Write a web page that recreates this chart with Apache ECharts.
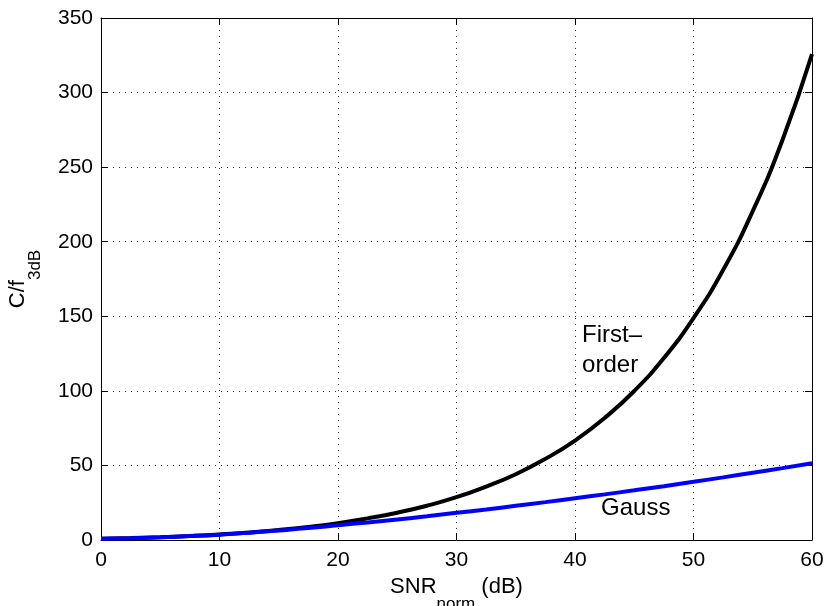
<!DOCTYPE html>
<html>
<head>
<meta charset="utf-8">
<script src="https://cdn.jsdelivr.net/npm/echarts@6/dist/echarts.min.js"></script>
<style>
html,body{margin:0;padding:0;background:#fff;overflow:hidden;}
#chart{width:827px;height:606px;}
</style>
</head>
<body>
<div id="chart"></div>
<script>
// SNR_norm (dB) sample points
var snrDb = [0, 2.5, 5, 7.5, 10, 12.5, 15, 17.5, 20, 22.5, 25, 27.5, 30, 32.5, 35, 37.5, 40, 42.5, 45, 47.5, 50, 52.5, 55, 57.5, 60];
// C/f3dB, first-order channel (black)
var firstOrder = [0.84, 1.27, 1.86, 2.66, 3.69, 5.02, 6.69, 8.77, 11.3, 14.5, 18.3, 23.0, 28.7, 35.8, 44.1, 54.4, 66.7, 81.8, 99.9, 122, 148.8, 181, 220.5, 268, 325.8];
// C/f3dB, Gaussian channel (blue)
var gauss = [0.8, 1.2, 1.8, 2.6, 3.6, 4.9, 6.4, 8.0, 9.9, 11.8, 13.8, 15.9, 18.2, 20.5, 22.9, 25.4, 28.0, 30.6, 33.3, 36.1, 39.0, 42.0, 45.1, 48.2, 51.4];
// axis ticks
var xTicks = {min: 0, max: 60, step: 10};
var yTicks = {min: 0, max: 350, step: 50};
// in-plot annotations (data coordinates)
var noteTexts = ['First\u2013', 'order', 'Gauss'];
var noteX = [40.6, 40.6, 42.2];
var noteY = [137.5, 117.4, 21];

var FONT = '"Liberation Sans", Arial, Helvetica, sans-serif';
var chart = echarts.init(document.getElementById('chart'), null, {renderer: 'canvas'});

function pairs(xs, ys) { return xs.map(function (x, i) { return [x, ys[i]]; }); }

var gridLine = {show: true, lineStyle: {color: '#333', width: 1, type: [1, 5]}};
var axLine = {show: true, onZero: false, lineStyle: {color: '#000', width: 1}};
var tick = {show: true, inside: true, length: 7, lineStyle: {color: '#000', width: 1}};
var nameRich = {
  a: {fontSize: 22, fontFamily: FONT, color: '#000', lineHeight: 37, verticalAlign: 'top'},
  s: {fontSize: 17, fontFamily: FONT, color: '#000', lineHeight: 17, verticalAlign: 'bottom'}
};

var option = {
  animation: false,
  backgroundColor: '#fff',
  grid: {left: 101, top: 18, right: 15, bottom: 66, containLabel: false, outerBoundsMode: 'none'},
  xAxis: [{
    type: 'value', position: 'bottom', min: xTicks.min, max: xTicks.max, interval: xTicks.step,
    axisLine: axLine, axisTick: tick, splitLine: gridLine,
    axisLabel: {color: '#000', fontSize: 21, fontFamily: FONT, margin: 10},
    name: '{a|SNR}{s|norm}{a| (dB)}', nameLocation: 'middle', nameGap: 32,
    nameTextStyle: {fontFamily: FONT, color: '#000', rich: nameRich}
  }, {
    type: 'value', position: 'top', min: xTicks.min, max: xTicks.max, interval: xTicks.step,
    axisLine: axLine, axisTick: tick, splitLine: {show: false}, axisLabel: {show: false}
  }],
  yAxis: [{
    type: 'value', position: 'left', min: yTicks.min, max: yTicks.max, interval: yTicks.step,
    axisLine: axLine, axisTick: tick, splitLine: gridLine,
    axisLabel: {color: '#000', fontSize: 21, fontFamily: FONT, margin: 8},
    name: '{a|C/f}{s|3dB}', nameLocation: 'middle', nameGap: 57, nameRotate: 90,
    nameTextStyle: {fontFamily: FONT, color: '#000', rich: nameRich}
  }, {
    type: 'value', position: 'right', min: yTicks.min, max: yTicks.max, interval: yTicks.step,
    axisLine: axLine, axisTick: tick, splitLine: {show: false}, axisLabel: {show: false}
  }],
  series: [{
    name: 'First-order', type: 'line', xAxisIndex: 0, yAxisIndex: 0,
    data: pairs(snrDb, firstOrder), showSymbol: false, symbol: 'none',
    smooth: 0.5,
    lineStyle: {color: '#000', width: 4}, clip: true
  }, {
    name: 'Gauss', type: 'line', xAxisIndex: 0, yAxisIndex: 0,
    data: pairs(snrDb, gauss), showSymbol: false, symbol: 'none',
    smooth: 0.5,
    lineStyle: {color: '#0000ff', width: 4}, clip: true
  }]
};
chart.setOption(option);

var graphics = noteTexts.map(function (t, i) {
  var p = chart.convertToPixel({gridIndex: 0}, [noteX[i], noteY[i]]);
  return {
    type: 'text', x: p[0], y: p[1], z: 100,
    style: {text: t, fill: '#000', font: '24px ' + FONT, textAlign: 'left', textVerticalAlign: 'middle', verticalAlign: 'middle'}
  };
});
chart.setOption({graphic: graphics});
</script>
</body>
</html>
